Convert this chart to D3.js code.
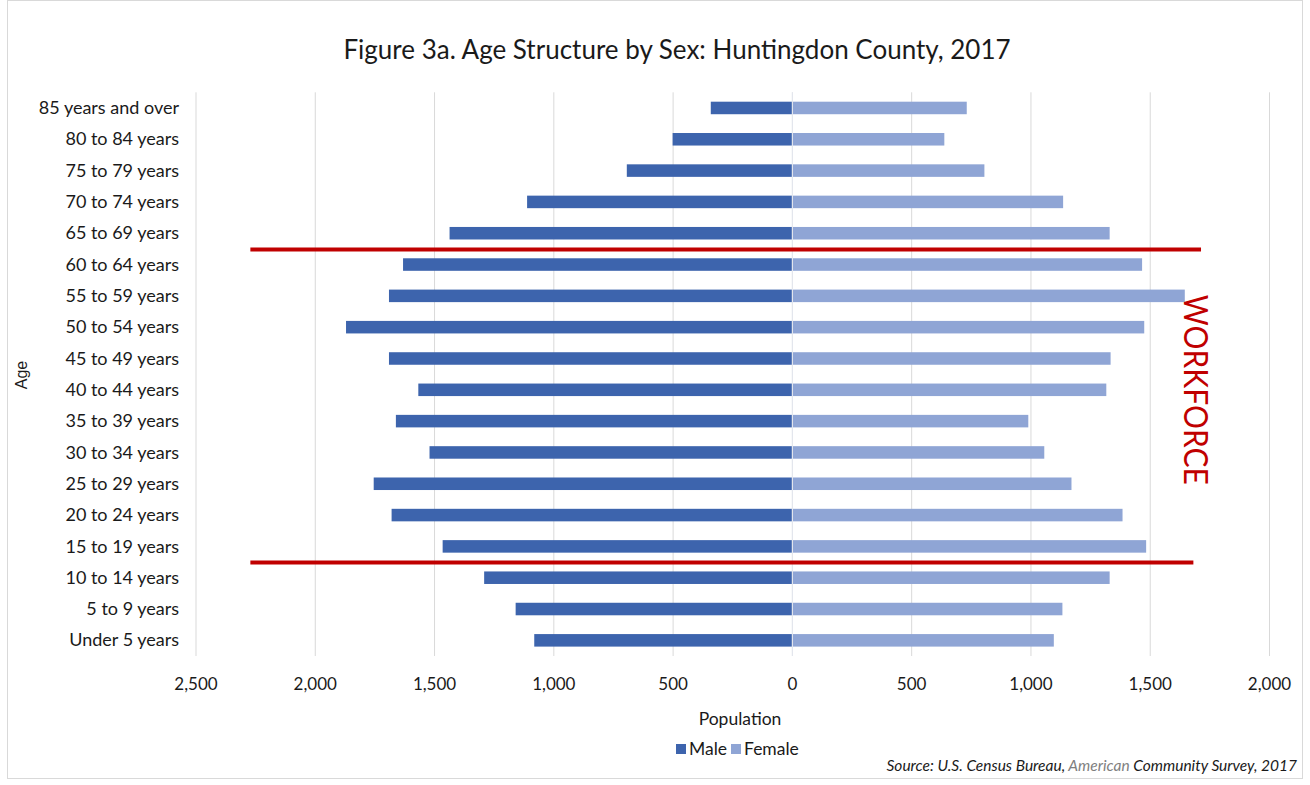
<!DOCTYPE html>
<html>
<head>
<meta charset="utf-8">
<script src="https://cdn.jsdelivr.net/npm/d3@7"></script>
<style>
  body { margin: 0; background: #fff; }
  svg { display: block; font-family: Lato, "Open Sans", sans-serif; }
</style>
</head>
<body>
<svg id="chart" width="1310" height="785"></svg>
<script>
const categories = ["Under 5 years","5 to 9 years","10 to 14 years","15 to 19 years","20 to 24 years","25 to 29 years","30 to 34 years","35 to 39 years","40 to 44 years","45 to 49 years","50 to 54 years","55 to 59 years","60 to 64 years","65 to 69 years","70 to 74 years","75 to 79 years","80 to 84 years","85 years and over"];
const male   = [1080,1158,1290,1464,1678,1753,1519,1660,1566,1689,1869,1689,1630,1435,1110,692,500,340];
const female = [1098,1134,1332,1485,1386,1172,1058,991,1318,1336,1477,1647,1468,1332,1137,807,639,733];
const tickValues = [-2500,-2000,-1500,-1000,-500,0,500,1000,1500,2000];
const seriesNames = ["Male","Female"];
// annotation: workforce boundaries (between lower/upper category), extent in population units
const workforceLines = [
  {below: "60 to 64 years", above: "65 to 69 years", from: -2270, to: 1715},
  {below: "10 to 14 years", above: "15 to 19 years", from: -2270, to: 1683}
];
const workforceLabel = {text: "WORKFORCE", at: "40 to 44 years", value: 1694};

const colors = {Male: "#3D64AD", Female: "#8FA5D5"};
const svg = d3.select("#chart");

svg.append("rect").attr("x",7.5).attr("y",0.5).attr("width",1295).attr("height",778)
  .attr("fill","#fff").attr("stroke","#d9d9d9");

const plot = {left:195.5, right:1269, top:92.3, bottom:656};
const x = d3.scaleLinear().domain([-2500,2000]).range([plot.left, plot.right]);
const y = d3.scaleBand().domain(categories.slice().reverse()).range([plot.top, plot.bottom])
  .paddingInner(0.6).paddingOuter(0.3);

// gridlines
svg.append("g").selectAll("line").data(tickValues).join("line")
  .attr("x1", d=>x(d)+0.5).attr("x2", d=>x(d)+0.5)
  .attr("y1", plot.top).attr("y2", plot.bottom)
  .attr("stroke","#d9d9d9").attr("stroke-width",1);

// bars
const rows = categories.map((c,i)=>({cat:c, male:male[i], female:female[i]}));
svg.append("g").selectAll("rect").data(rows).join("rect")
  .attr("x", d=>x(-d.male)).attr("width", d=>x(0)-x(-d.male))
  .attr("y", d=>y(d.cat)).attr("height", y.bandwidth())
  .attr("fill", colors.Male);
svg.append("g").selectAll("rect").data(rows).join("rect")
  .attr("x", x(0)+1).attr("width", d=>x(d.female)-x(0)-1)
  .attr("y", d=>y(d.cat)).attr("height", y.bandwidth())
  .attr("fill", colors.Female);

// zero line
svg.append("line").attr("x1",x(0)+0.5).attr("x2",x(0)+0.5)
  .attr("y1",plot.top).attr("y2",plot.bottom).attr("stroke","#e4e8f0").attr("stroke-width",1);

// y axis labels
const yAxis = d3.axisLeft(y).tickSize(0).tickPadding(0);
const gy = svg.append("g").attr("transform",`translate(179,0)`).call(yAxis);
gy.select(".domain").remove();
gy.selectAll("text").attr("font-size",18).attr("fill","#1a1a1a")
  .attr("font-family","Lato, sans-serif").attr("dy","0.34em");

// x axis labels
const xAxis = d3.axisBottom(x).tickValues(tickValues).tickSize(0).tickPadding(0)
  .tickFormat(d=>d3.format(",")(Math.abs(d)));
const gx = svg.append("g").attr("transform",`translate(0,690)`).call(xAxis);
gx.select(".domain").remove();
gx.selectAll("text").attr("font-size",17).attr("fill","#1a1a1a")
  .attr("font-family","Lato, sans-serif").attr("dy",0);

// workforce lines
svg.append("g").selectAll("line").data(workforceLines).join("line")
  .attr("x1", d=>x(d.from)).attr("x2", d=>x(d.to))
  .attr("y1", d=>y(d.above)+y.bandwidth()+y.step()*y.paddingInner()/2+0.5)
  .attr("y2", d=>y(d.above)+y.bandwidth()+y.step()*y.paddingInner()/2+0.5)
  .attr("stroke","#C00000").attr("stroke-width",4);

const wy = y(workforceLabel.at)+y.bandwidth()/2;
svg.append("text").attr("transform",`translate(${x(workforceLabel.value)},${wy}) rotate(90)`)
  .attr("text-anchor","middle").attr("dy","0.35em")
  .attr("font-size",33).attr("fill","#C00000").attr("font-family","Lato, sans-serif")
  .attr("textLength",190).attr("lengthAdjust","spacingAndGlyphs")
  .text(workforceLabel.text);

// title
svg.append("text").attr("x",677).attr("y",59).attr("text-anchor","middle")
  .attr("font-size",26).attr("fill","#1a1a1a").text("Figure 3a. Age Structure by Sex: Huntingdon County, 2017");

// axis titles
svg.append("text").attr("x",740).attr("y",725).attr("text-anchor","middle")
  .attr("font-size",17.5).attr("fill","#1a1a1a").text("Population");
svg.append("text").attr("transform","translate(27,375) rotate(-90)").attr("text-anchor","middle")
  .attr("font-size",16).attr("fill","#1a1a1a").attr("font-family","'Liberation Sans', Arial, sans-serif").text("Age");

// legend
const legend = svg.append("g").attr("transform","translate(676,755)");
const legX = [0, 55];
seriesNames.forEach((s,i)=>{
  legend.append("rect").attr("x",legX[i]).attr("y",-11).attr("width",10).attr("height",10).attr("fill",colors[s]);
  legend.append("text").attr("x",legX[i]+13).attr("y",0).attr("font-size",17.5).attr("fill","#1a1a1a").text(s);
});

// source
const src = svg.append("text").attr("x",1297).attr("y",771).attr("text-anchor","end")
  .attr("font-size",15.5).attr("font-style","italic").attr("fill","#1a1a1a");
src.append("tspan").text("Source: U.S. Census Bureau, ");
src.append("tspan").attr("fill","#7f7f7f").text("American");
src.append("tspan").text(" Community Survey, 2017");
</script>
</body>
</html>
